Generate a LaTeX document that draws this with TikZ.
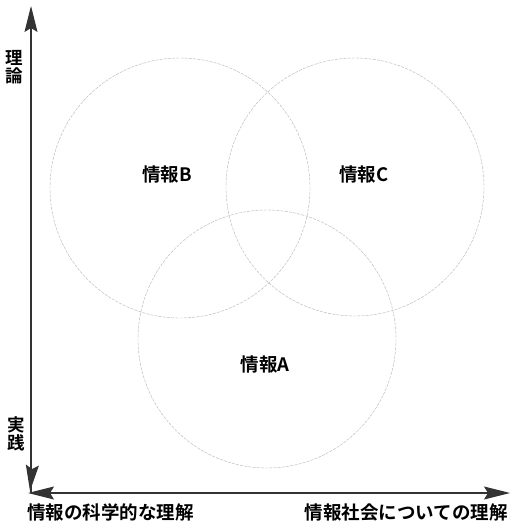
\documentclass[tikz,border=0pt]{standalone}
\usepackage{fontspec}
\newfontfamily\jp{Noto Sans CJK JP}[BoldFont={Noto Sans CJK JP Bold}]
\usetikzlibrary{arrows.meta}
\tikzset{
  axis/.style={line width=1.1pt, draw=black!80, -{Stealth[length=26pt,width=13pt,inset=4pt]}},
  ring/.style={draw=gray!55, line width=0.45pt, dash pattern=on 3pt off 1.2pt},
  lbl/.style={font=\jp\bfseries\fontsize{18.5}{19}\selectfont, inner sep=0pt},
  vlbl/.style={font=\jp\bfseries\fontsize{17.5}{18.5}\selectfont, inner sep=0pt, align=center},
  axlbl/.style={font=\jp\bfseries\fontsize{18.5}{19.5}\selectfont, inner sep=0pt},
}
\begin{document}
\begin{tikzpicture}[x=1pt,y=-1pt]
\useasboundingbox (0,0) rectangle (511,522);
% circles
\draw[ring] (180,188) circle (130);
\draw[ring] (355,187) circle (129);
\draw[ring] (267,339) circle (129);
% axes
\coordinate (vtop) at (31,6);
\coordinate (vbot) at (30,491);
\coordinate (hleft) at (28,493);
\coordinate (hright) at (510,493);
\coordinate (corner) at (31,493);
\draw[axis] (corner) -- (vtop);
\draw[axis] (31,480) -- (vbot);
\draw[axis] (40,493) -- (hleft);
\draw[axis] (corner) -- (hright);
% labels
\node[vlbl] (theory) at (14,67) {理\\論};
\node[vlbl] (practice) at (16,434) {実\\践};
\node[axlbl, anchor=west] (sci) at (27,512) {情報の科学的な理解};
\node[axlbl, anchor=east] (soc) at (508,512) {情報社会についての理解};
\node[lbl] (B) at (167,174) {情報B};
\node[lbl] (C) at (364,174) {情報C};
\node[lbl] (A) at (265,364) {情報A};
\end{tikzpicture}
\end{document}
